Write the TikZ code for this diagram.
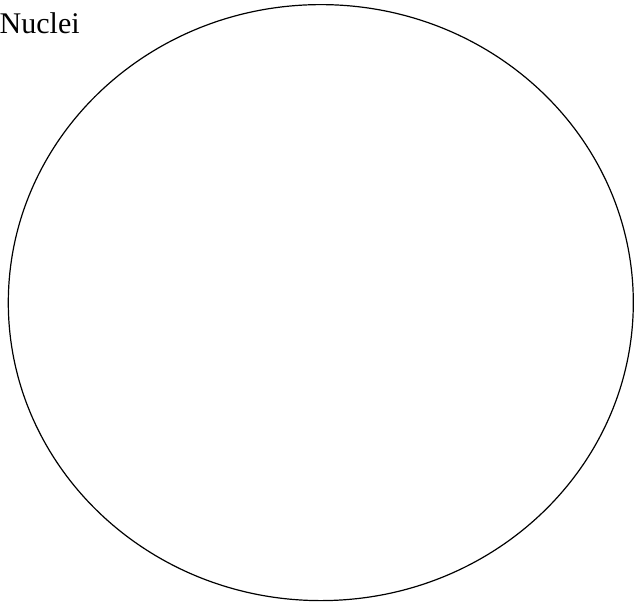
\documentclass[tikz,border=0pt]{standalone}
\usepackage{fontspec}
\setmainfont{Liberation Serif}
\usetikzlibrary{shapes.geometric}
\begin{document}
\begin{tikzpicture}[x=1pt,y=-1pt,
  outline/.style={draw=black,line width=1.2pt},
  lbl/.style={font=\fontsize{30}{36}\selectfont,inner sep=0pt,anchor=base west}]
\useasboundingbox (0,0) rectangle (636,603);
\node[outline,ellipse,minimum width=625pt,minimum height=596pt,inner sep=0pt] (nucleus) at (320.8,302.6) {};
\node[lbl] (label) at (-0.5,33.3) {Nuclei};
\end{tikzpicture}
\end{document}
